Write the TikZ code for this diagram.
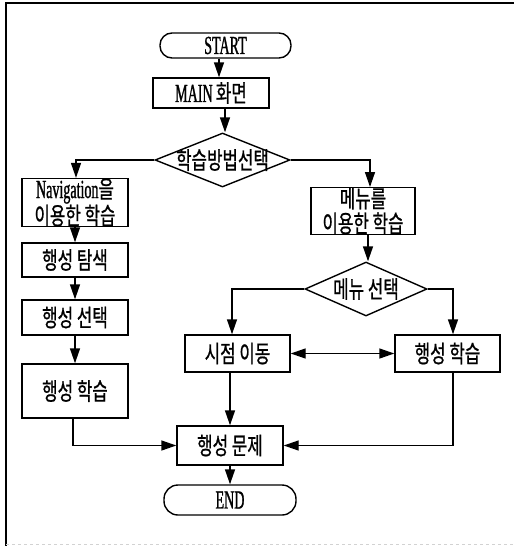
\documentclass[tikz,border=0pt]{standalone}
\usepackage{fontspec}
\setmainfont{Liberation Serif}[FakeStretch=0.54,FakeBold=1]
\newfontfamily\kr{Noto Sans CJK KR}[FakeStretch=0.7,FakeBold=0.8]
\newcommand{\lat}{\fontsize{26}{21}\selectfont}
\usetikzlibrary{shapes.geometric,arrows.meta}
\begin{document}
\begin{tikzpicture}[x=1pt,y=-1pt,
  every node/.style={font=\fontsize{24}{21}\selectfont, inner sep=0pt},
  box/.style={draw, line width=1.4pt, rectangle},
  term/.style={draw, line width=1.4pt, rectangle, rounded corners=12pt},
  dia/.style={draw, line width=1.4pt, diamond},
  arr/.style={line width=1.4pt, -{Triangle[length=15pt,width=10pt]}},
  darr/.style={line width=1.4pt, {Triangle[length=15pt,width=10pt]}-{Triangle[length=15pt,width=10pt]}},
  ln/.style={line width=1.4pt}]
\useasboundingbox (0,0) rectangle (514,546);
% frame
\draw[line width=1.2pt] (6,546) -- (6,3) -- (514,3);
\draw[gray!35, dashed, line width=0.8pt] (6,544) -- (514,544);

\node[term, minimum width=131pt, minimum height=25pt] (start) at (225.5,45.5) {\lat START};
\node[box, minimum width=116pt, minimum height=30pt] (main) at (211,93) {{\lat MAIN} {\kr 화면}};
\node[dia, minimum width=135pt, minimum height=54pt] (d1) at (222.5,160) {\makebox[0pt]{\kr 학습방법선택}};
\node[box, minimum width=106pt, minimum height=41pt, align=center] (nav) at (75,202.5) {{\lat Navigation}{\kr 을}\\{\kr 이용한 학습}};
\node[box, minimum width=104pt, minimum height=46pt, align=center] (mnu) at (363,211) {{\kr 메뉴를}\\[2pt]{\kr 이용한 학습}};
\node[box, minimum width=106pt, minimum height=34pt] (srch) at (75,260) {\kr 행성 탐색};
\node[box, minimum width=106pt, minimum height=35pt] (sel) at (75,317.5) {\kr 행성 선택};
\node[box, minimum width=106pt, minimum height=54pt] (lrn1) at (75,391) {\kr 행성 학습};
\node[dia, minimum width=122pt, minimum height=54pt] (d2) at (366,289) {\makebox[0pt]{\kr 메뉴 선택}};
\node[box, minimum width=105pt, minimum height=37pt] (move) at (237.5,353.5) {\kr 시점 이동};
\node[box, minimum width=105pt, minimum height=37pt] (lrn2) at (447.5,353.5) {\kr 행성 학습};
\node[box, minimum width=106pt, minimum height=39pt] (quiz) at (230,445.5) {\kr 행성 문제};
\node[term, rounded corners=14pt, minimum width=132pt, minimum height=30pt] (end) at (230,500) {\lat END};

\draw[arr] (start.south -| 219,0) -- (main.north -| 219,0);
\draw[arr] (main.south -| 225,0) -- (d1.north -| 225,0);
\draw[arr] (d1.west) -| (nav.north -| 76,0);
\draw[arr] (d1.east) -| (mnu.north -| 370,0);
\draw[arr] (nav.south) -- (srch.north);
\draw[arr] (srch.south) -- (sel.north);
\draw[arr] (sel.south) -- (lrn1.north);
\draw[arr] (lrn1.south -| 73,0) |- (quiz.west);
\draw[arr] (mnu.south -| 368,0) -- (d2.north -| 368,0);
\draw[arr] (d2.west) -| (move.north -| 232,0);
\draw[arr] (d2.east) -| (lrn2.north -| 453,0);
\draw[darr] (move.east) -- (lrn2.west);
\draw[arr] (move.south -| 230,0) -- (quiz.north -| 230,0);
\draw[arr] (lrn2.south -| 453,0) |- (quiz.east);
\draw[arr] (quiz.south) -- (end.north);
\end{tikzpicture}
\end{document}
